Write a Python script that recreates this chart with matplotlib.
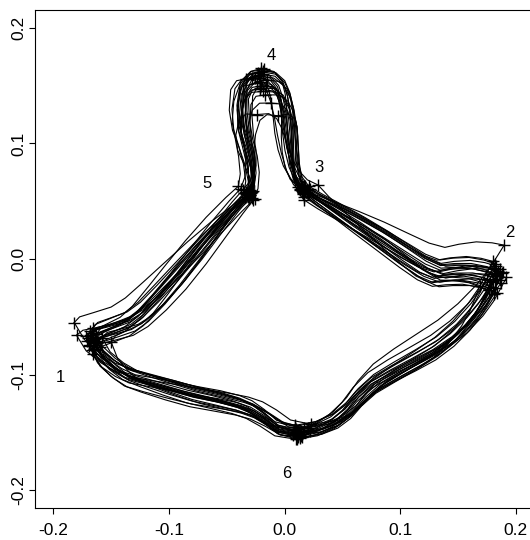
import numpy as np
import matplotlib
matplotlib.use("Agg")
from matplotlib import pyplot as plt

plt.rcParams["font.family"] = ["Liberation Sans", "DejaVu Sans"]
plt.rcParams["axes.unicode_minus"] = False

# mean outline, split into segments between landmarks (1->6->2->3->4->5->1)
seg_1_6 = [(-0.1658, -0.0694), (-0.1585, -0.0829), (-0.1468, -0.0933), (-0.1351, -0.1007),
           (-0.1205, -0.1052), (-0.1000, -0.1112), (-0.0795, -0.1171), (-0.0591, -0.1216),
           (-0.0415, -0.1261), (-0.0298, -0.1306), (-0.0181, -0.1380), (-0.0064, -0.1469),
           (0.0111, -0.1508)]
seg_6_2 = [(0.0111, -0.1508), (0.0287, -0.1469), (0.0433, -0.1401), (0.0550, -0.1306),
           (0.0652, -0.1186), (0.0784, -0.1067), (0.0959, -0.0963), (0.1149, -0.0858),
           (0.1325, -0.0754), (0.1485, -0.0626), (0.1626, -0.0477), (0.1719, -0.0352),
           (0.1784, -0.0238), (0.1836, -0.0143)]
seg_2_3 = [(0.1836, -0.0143), (0.1734, -0.0113), (0.1602, -0.0092), (0.1456, -0.0098),
           (0.1339, -0.0113), (0.1208, -0.0060), (0.1047, 0.0042), (0.0842, 0.0179),
           (0.0637, 0.0310), (0.0433, 0.0438), (0.0287, 0.0528), (0.0170, 0.0608)]
seg_3_4 = [(0.0170, 0.0608), (0.0105, 0.0692), (0.0067, 0.0811), (0.0044, 0.0960),
           (0.0029, 0.1109), (0.0015, 0.1258), (-0.0006, 0.1377), (-0.0041, 0.1480),
           (-0.0108, 0.1550), (-0.0211, 0.1570)]
seg_4_5 = [(-0.0211, 0.1570), (-0.0298, 0.1550), (-0.0351, 0.1470), (-0.0371, 0.1288),
           (-0.0357, 0.1109), (-0.0319, 0.0960), (-0.0292, 0.0811), (-0.0287, 0.0662),
           (-0.0313, 0.0557)]
seg_5_1 = [(-0.0313, 0.0557), (-0.0415, 0.0453), (-0.0576, 0.0274), (-0.0751, 0.0066),
           (-0.0927, -0.0143), (-0.1088, -0.0322), (-0.1234, -0.0471), (-0.1351, -0.0554),
           (-0.1497, -0.0605), (-0.1614, -0.0644), (-0.1658, -0.0694)]

# landmarks of each specimen
l1x = [-0.166, -0.168, -0.163, -0.170, -0.165, -0.162, -0.167, -0.169, -0.164, -0.182, -0.180, -0.150,
       -0.166, -0.171, -0.163, -0.160, -0.168, -0.165, -0.167, -0.172, -0.164, -0.158, -0.166, -0.169]
l1y = [-0.070, -0.066, -0.074, -0.068, -0.078, -0.072, -0.064, -0.075, -0.069, -0.055, -0.066, -0.072,
       -0.082, -0.071, -0.065, -0.076, -0.062, -0.073, -0.079, -0.067, -0.071, -0.068, -0.060, -0.074]
l2x = [0.183, 0.181, 0.186, 0.179, 0.188, 0.184, 0.182, 0.169, 0.190, 0.192, 0.180, 0.185,
       0.177, 0.182, 0.187, 0.183, 0.175, 0.181, 0.186, 0.184, 0.178, 0.182, 0.189, 0.180]
l2y = [-0.015, -0.008, -0.018, -0.024, -0.012, -0.029, -0.004, -0.023, 0.012, -0.016, -0.019, -0.010,
       -0.027, -0.013, -0.021, -0.006, -0.017, -0.030, -0.009, -0.014, -0.020, -0.025, -0.011, -0.002]
l3x = [0.017, 0.015, 0.019, 0.013, 0.021, 0.016, 0.018, 0.029, 0.014, 0.017, 0.020, 0.012,
       0.016, 0.018, 0.015, 0.022, 0.017, 0.019, 0.014, 0.016, 0.018, 0.013, 0.020, 0.017]
l3y = [0.060, 0.062, 0.058, 0.061, 0.063, 0.056, 0.059, 0.064, 0.061, 0.051, 0.060, 0.062,
       0.057, 0.063, 0.059, 0.061, 0.054, 0.060, 0.062, 0.058, 0.061, 0.060, 0.057, 0.063]
l4x = [-0.021, -0.019, -0.024, -0.018, -0.021, -0.033, -0.020, -0.024, -0.006, -0.012, -0.022, -0.016,
       -0.020, -0.026, -0.019, -0.021, -0.023, -0.017, -0.028, -0.020, -0.022, -0.015, -0.021, -0.019]
l4y = [0.157, 0.160, 0.152, 0.164, 0.148, 0.156, 0.162, 0.125, 0.124, 0.135, 0.158, 0.150,
       0.165, 0.157, 0.145, 0.153, 0.161, 0.142, 0.157, 0.150, 0.159, 0.155, 0.147, 0.163]
l5x = [-0.031, -0.029, -0.034, -0.040, -0.027, -0.032, -0.030, -0.028, -0.036, -0.031, -0.026, -0.033,
       -0.030, -0.038, -0.029, -0.032, -0.027, -0.031, -0.035, -0.030, -0.028, -0.033, -0.030, -0.031]
l5y = [0.056, 0.058, 0.054, 0.063, 0.051, 0.057, 0.059, 0.053, 0.060, 0.056, 0.052, 0.058,
       0.055, 0.061, 0.057, 0.054, 0.059, 0.052, 0.057, 0.055, 0.058, 0.056, 0.060, 0.053]
l6x = [0.011, 0.008, 0.014, 0.010, 0.023, 0.012, 0.009, 0.015, 0.011, 0.020, 0.007, 0.013,
       0.010, 0.016, 0.012, 0.009, 0.022, 0.011, 0.014, 0.008, 0.013, 0.010, 0.017, 0.012]
l6y = [-0.151, -0.148, -0.153, -0.156, -0.143, -0.150, -0.145, -0.154, -0.149, -0.146, -0.152, -0.155,
       -0.147, -0.150, -0.153, -0.144, -0.149, -0.156, -0.151, -0.148, -0.152, -0.150, -0.146, -0.154]
# outward bow of the outline between landmarks, per specimen
bulge = [0.000, 0.004, -0.003, 0.006, -0.005, 0.002, -0.001, 0.007, -0.006, 0.003, -0.002, 0.005,
         -0.004, 0.001, 0.006, -0.007, 0.002, -0.003, 0.004, -0.001, 0.005, -0.005, 0.003, -0.002]

lm_labels = ["1", "2", "3", "4", "5", "6"]
lm_label_x = [-0.1936, 0.1953, 0.0301, -0.0114, -0.0673, 0.0018]
lm_label_y = [-0.1022, 0.0230, 0.0796, 0.1765, 0.0653, -0.1857]

ticks = [-0.2, -0.1, 0.0, 0.1, 0.2]
tick_labels = ["-0.2", "-0.1", "0.0", "0.1", "0.2"]


def warp(seg, a_new, b_new, bow):
    seg = np.asarray(seg, dtype=float)
    a_old, b_old = seg[0], seg[-1]
    d = np.r_[0, np.cumsum(np.hypot(*np.diff(seg, axis=0).T))]
    t = d / d[-1]
    chord = b_old - a_old
    normal = np.array([chord[1], -chord[0]]) / np.hypot(*chord)
    out = seg + np.outer(1 - t, np.asarray(a_new) - a_old) + np.outer(t, np.asarray(b_new) - b_old)
    out += np.outer(bow * np.sin(np.pi * t), normal)
    return out


segments = [seg_1_6, seg_6_2, seg_2_3, seg_3_4, seg_4_5, seg_5_1]
n = len(l1x)

fig = plt.figure(figsize=(5.3, 5.4), dpi=100)
ax = fig.add_axes([0.0664, 0.0594, 0.9374, 0.9228])

for i in range(n):
    lm = {1: (l1x[i], l1y[i]), 2: (l2x[i], l2y[i]), 3: (l3x[i], l3y[i]),
          4: (l4x[i], l4y[i]), 5: (l5x[i], l5y[i]), 6: (l6x[i], l6y[i])}
    order = [1, 6, 2, 3, 4, 5, 1]
    parts = []
    for k, seg in enumerate(segments):
        w = warp(seg, lm[order[k]], lm[order[k + 1]], bulge[(i + 7 * k) % n])
        parts.append(w if k == 0 else w[1:])
    outline = np.vstack(parts)
    ax.plot(outline[:, 0], outline[:, 1], color="black", lw=0.8)

for lx, ly in [(l1x, l1y), (l2x, l2y), (l3x, l3y), (l4x, l4y), (l5x, l5y), (l6x, l6y)]:
    ax.plot(lx, ly, "+", color="black", ms=8, mew=1.0)

for s, x, y in zip(lm_labels, lm_label_x, lm_label_y):
    ax.text(x, y, s, fontsize=12, ha="center", va="center")

ax.set_xlim(-0.2158, 0.2141)
ax.set_ylim(-0.2154, 0.2158)
ax.set_xticks(ticks)
ax.set_xticklabels(tick_labels)
ax.set_yticks(ticks)
ax.set_yticklabels(tick_labels, rotation=90, va="center")
ax.tick_params(direction="out", length=4.5, width=0.8, labelsize=12.5)
ax.tick_params(axis="x", pad=6)
ax.tick_params(axis="y", pad=2)
ax.spines["right"].set_visible(False)
for sp in ["left", "bottom", "top"]:
    ax.spines[sp].set_linewidth(0.8)

fig.savefig("out.png", dpi=100)
